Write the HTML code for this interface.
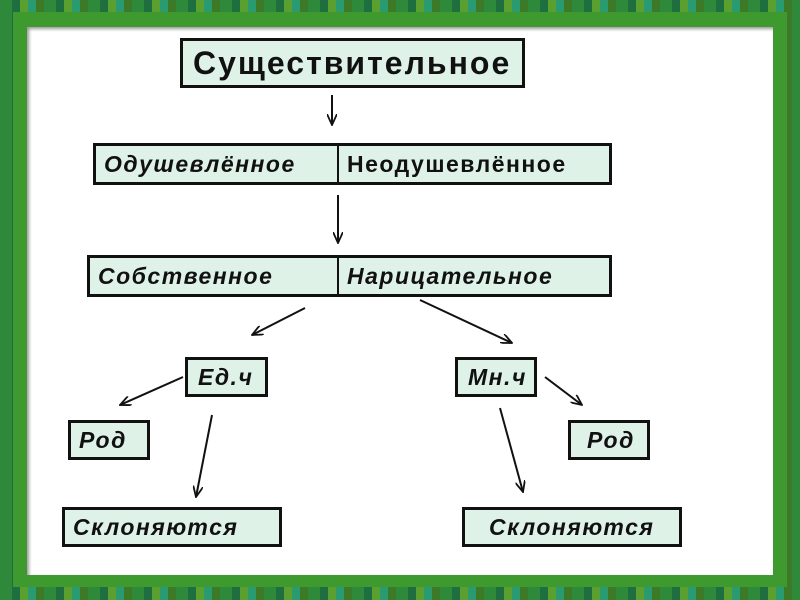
<!DOCTYPE html><html><head><meta charset="utf-8"><style>
body{margin:0;width:800px;height:600px;overflow:hidden;position:relative;font-family:"Liberation Sans",sans-serif;
background:repeating-linear-gradient(90deg,#2e8a3a 0 12px,#1e6e40 12px 20px,#5aa030 20px 28px,#2a9a70 28px 36px,#3d7a28 36px 44px);}
.fr{position:absolute;left:13px;top:12px;width:774px;height:575px;background:#3e9a2e;}
.in{position:absolute;left:27px;top:27px;width:746px;height:548px;background:#fff;box-shadow:inset 2px 2px 3px #999;}
.b{position:absolute;background:#dff2e8;border:3px solid #111;box-sizing:border-box;font-weight:bold;font-style:italic;color:#111;display:flex;align-items:center;white-space:nowrap;font-size:23px;letter-spacing:1.5px;}
</style></head><body>
<div class="fr"></div><div class="in"></div>
<div class="b" style="left:180px;top:38px;width:345px;height:50px;font-style:normal;font-size:32px;letter-spacing:2px;padding-left:10px">Существительное</div>
<div class="b" style="left:93px;top:143px;width:246px;height:42px;padding-left:8px;border-right-width:2px">Одушевлённое</div>
<div class="b" style="left:337px;top:143px;width:275px;height:42px;font-style:normal;padding-left:8px;border-left-width:2px">Неодушевлённое</div>
<div class="b" style="left:87px;top:255px;width:252px;height:42px;padding-left:8px;border-right-width:2px">Собственное</div>
<div class="b" style="left:337px;top:255px;width:275px;height:42px;padding-left:8px;border-left-width:2px">Нарицательное</div>
<div class="b" style="left:185px;top:357px;width:83px;height:40px;padding-left:10px">Ед.ч</div>
<div class="b" style="left:455px;top:357px;width:82px;height:40px;padding-left:10px">Мн.ч</div>
<div class="b" style="left:68px;top:420px;width:82px;height:40px;padding-left:8px">Род</div>
<div class="b" style="left:568px;top:420px;width:82px;height:40px;padding-left:16px">Род</div>
<div class="b" style="left:62px;top:507px;width:220px;height:40px;padding-left:8px">Склоняются</div>
<div class="b" style="left:462px;top:507px;width:220px;height:40px;padding-left:24px">Склоняются</div>
<svg width="800" height="600" style="position:absolute;left:0;top:0">
<defs><marker id="a" markerWidth="12" markerHeight="10" refX="11" refY="5" orient="auto" markerUnits="userSpaceOnUse"><path d="M0,0L11,5L0,10" fill="none" stroke="#111" stroke-width="1.8"/></marker></defs>
<g stroke="#111" stroke-width="2" marker-end="url(#a)">
<line x1="332" y1="95" x2="332" y2="125"/><line x1="338" y1="195" x2="338" y2="243"/>
<line x1="305" y1="308" x2="252" y2="335"/><line x1="420" y1="300" x2="512" y2="343"/>
<line x1="183" y1="377" x2="120" y2="405"/><line x1="545" y1="377" x2="582" y2="405"/>
<line x1="212" y1="415" x2="196" y2="497"/><line x1="500" y1="408" x2="523" y2="492"/>
</g></svg>
</body></html>
